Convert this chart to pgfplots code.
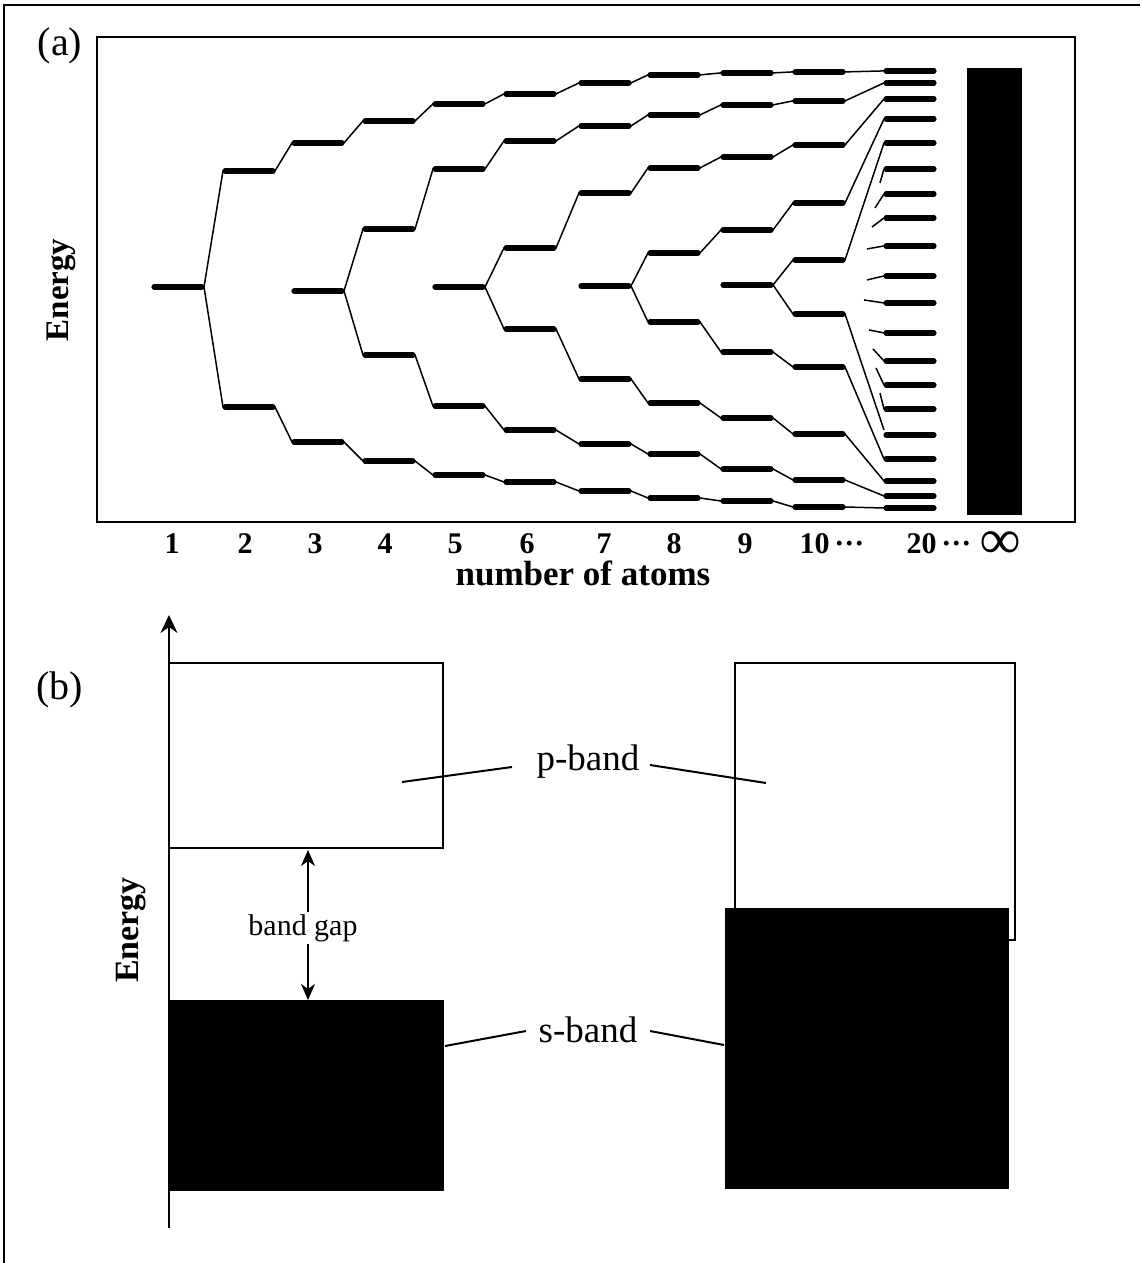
\documentclass[border=0pt]{standalone}
\usepackage{fontspec}
\setmainfont{Liberation Serif}
\usepackage{pgfplots}
\pgfplotsset{compat=1.18}
\usetikzlibrary{arrows.meta}

% energy levels: x = centre of level (px), y = -(vertical position) 
\pgfplotstableread{
x y
178 -287
249 -171
249 -407
318 -143
318 -291
318 -442
389 -121
389 -229
389 -355
389 -461
459 -104
459 -169
459 -287
459 -406
459 -475
530 -94
530 -141
530 -248
530 -329
530 -430
530 -482
605 -83
605 -126
605 -193
605 -286
605 -379
605 -444
605 -491
674 -75
674 -115
674 -168
674 -253
674 -322
674 -403
674 -454
674 -498
747 -73
747 -105
747 -157
747 -230
747 -285
747 -352
747 -418
747 -469
747 -501
819 -72
819 -101
819 -145
819 -203
819 -260
819 -314
819 -367
819 -434
819 -480
819 -507
910 -71
910 -83
910 -99
910 -119
910 -143
910 -169
910 -194
910 -218
910 -246
910 -276
910 -303
910 -333
910 -361
910 -385
910 -409
910 -435
910 -459
910 -481
910 -496
910 -508
}\levels

\pgfplotstableread{
x y
204 -287
223 -171
275 -171
292 -143
344 -143
363 -121
415 -121
433 -104
485 -104
504 -94
556 -94
579 -83
631 -83
648 -75
700 -75
721 -73
773 -73
793 -72
845 -72
884 -71
nan nan
204 -287
223 -407
275 -407
292 -442
344 -442
363 -461
415 -461
433 -475
485 -475
504 -482
556 -482
579 -491
631 -491
648 -498
700 -498
721 -501
773 -501
793 -507
845 -507
884 -508
nan nan
344 -291
363 -229
415 -229
433 -169
485 -169
504 -141
556 -141
579 -126
631 -126
648 -115
700 -115
721 -105
773 -105
793 -101
845 -101
884 -83
nan nan
344 -291
363 -355
415 -355
433 -406
485 -406
504 -430
556 -430
579 -444
631 -444
648 -454
700 -454
721 -469
773 -469
793 -480
845 -480
884 -496
nan nan
485 -287
504 -248
556 -248
579 -193
631 -193
648 -168
700 -168
721 -157
773 -157
793 -145
845 -145
884 -99
nan nan
485 -287
504 -329
556 -329
579 -379
631 -379
648 -403
700 -403
721 -418
773 -418
793 -434
845 -434
884 -481
nan nan
631 -286
648 -253
700 -253
721 -230
773 -230
793 -203
845 -203
884 -119
nan nan
631 -286
648 -322
700 -322
721 -352
773 -352
793 -367
845 -367
884 -459
nan nan
773 -285
793 -260
845 -260
884 -143
nan nan
773 -285
793 -314
845 -314
884 -430
nan nan
880 -183
884 -169
nan nan
875 -208
884 -194
nan nan
872 -227
884 -218
nan nan
867 -249
884 -246
nan nan
867 -280
884 -276
nan nan
864 -300
884 -303
nan nan
869 -330
884 -333
nan nan
873 -349
884 -361
nan nan
876 -368
884 -385
nan nan
880 -393
884 -409
}\links

\begin{document}
\begin{tikzpicture}
\useasboundingbox (0,0) rectangle (570pt,-631.5pt);
\draw[line width=0.7pt] (2pt,-631.5pt) -- (2pt,-2.5pt) -- (570pt,-2.5pt);

% ---------------- panel (a)
\begin{axis}[
  at={(48.5pt,-261pt)}, anchor=south west,
  scale only axis, width=489pt, height=242.5pt,
  xmin=97, xmax=1075, ymin=-522, ymax=-37,
  axis line style={line width=0.9pt},
  ytick=\empty,
  xtick={172,245,315,385,455,527,604,674,745,832,939,1000},
  xticklabels={1,2,3,4,5,6,7,8,9,10\,···,20\,···,{\fontsize{28}{28}\selectfont\raisebox{-2.5pt}{∞}}},
  major tick length=0pt,
  xticklabel style={font=\fontsize{15}{16}\selectfont\bfseries, anchor=base, yshift=-15.5pt},
  clip=false,
  unbounded coords=jump,
]
\addplot[line width=0.75pt, black] table {\links};
\addplot[only marks, mark=-, mark size=12pt, mark options={line width=2.6pt, line cap=round, black}] table {\levels};
\addplot[fill=black, draw=black] coordinates {(967,-68)(1021,-68)(1021,-514)(967,-514)} -- cycle;
\node[font=\fontsize{20}{20}\selectfont] at (axis cs:60,-46) {(a)};
\node[rotate=90, font=\fontsize{16.5}{17}\selectfont\bfseries] at (axis cs:61,-290) {Energy};
\node[anchor=base, font=\fontsize{17.5}{18}\selectfont\bfseries] at (axis cs:583,-585) {number of atoms};
\end{axis}

% ---------------- panel (b)
\begin{axis}[
  at={(84.5pt,-614pt)}, anchor=south west,
  scale only axis, width=485.5pt, height=306.5pt,
  xmin=169, xmax=1140, ymin=-1228, ymax=-615,
  axis x line=none, axis y line=left,
  y axis line style={line width=0.8pt, -{Stealth[length=9pt,width=8.5pt,inset=3pt]}},
  ytick=\empty, xtick=\empty,
  clip=false,
]
\addplot[draw=black, line width=0.8pt, fill=white] coordinates {(169,-663)(443,-663)(443,-848)(169,-848)} -- cycle;
\addplot[fill=black, draw=black] coordinates {(169,-1000)(443,-1000)(443,-1190)(169,-1190)} -- cycle;
\addplot[draw=black, line width=0.8pt, fill=white] coordinates {(735,-663)(1015,-663)(1015,-940)(735,-940)} -- cycle;
\addplot[fill=black, draw=black] coordinates {(725,-908)(1008,-908)(1008,-1188)(725,-1188)} -- cycle;
\addplot[line width=0.8pt, {Stealth[length=8pt,width=7pt,inset=2.5pt]}-{Stealth[length=8pt,width=7pt,inset=2.5pt]}] coordinates {(308,-850)(308,-1000)};
\node[fill=white, inner sep=1pt, font=\fontsize{15}{15}\selectfont] at (axis cs:303,-928) {band gap};
\addplot[line width=1pt] coordinates {(402,-782)(512,-767)};
\addplot[line width=1pt] coordinates {(650,-765)(766,-783)};
\addplot[line width=1pt] coordinates {(445,-1046)(526,-1031)};
\addplot[line width=1pt] coordinates {(650,-1031)(724,-1045)};
\node[font=\fontsize{18.5}{19}\selectfont] at (axis cs:588,-762) {p-band};
\node[font=\fontsize{18.5}{19}\selectfont] at (axis cs:588,-1030) {s-band};
\node[rotate=90, font=\fontsize{17}{17}\selectfont\bfseries] at (axis cs:131,-930) {Energy};
\node[font=\fontsize{20}{20}\selectfont] at (axis cs:60,-690) {(b)};
\end{axis}
\end{tikzpicture}
\end{document}
